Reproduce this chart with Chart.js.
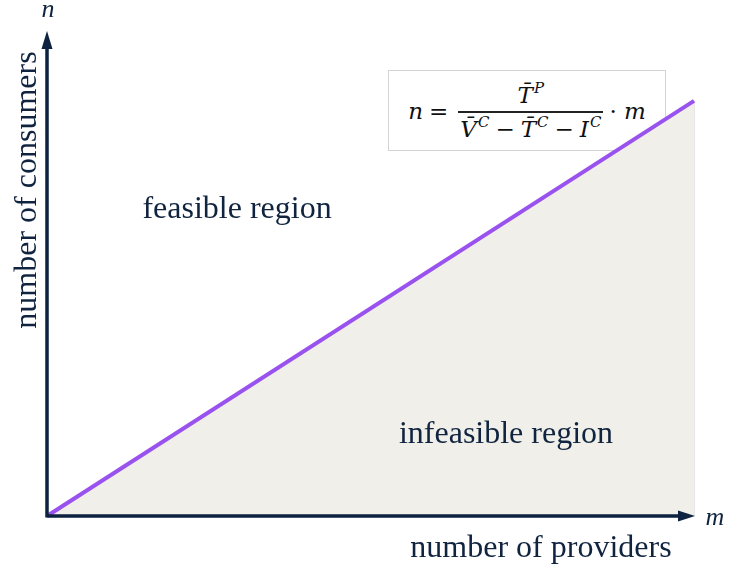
<!DOCTYPE html>
<html>
<head>
<meta charset="utf-8">
<script src="https://cdn.jsdelivr.net/npm/chart.js@4.4.1/dist/chart.umd.min.js"></script>
<style>
  html, body { margin: 0; padding: 0; background: #fff; }
  #wrap { position: relative; width: 729px; height: 568px; }
  #grafico { position: absolute; left: 0; top: 0; z-index: 1; }
  #formula {
    position: absolute; left: 388px; top: 70px; width: 276px; height: 79px; z-index: 0;
    border: 1px solid #d4d4d4; background: #fff;
    font-family: "DejaVu Serif", serif; font-size: 23px; color: #111;
    display: flex; align-items: center; justify-content: center; white-space: nowrap;
  }
  #formula i { font-style: italic; }
  #formula sup { font-size: 15px; font-style: italic; vertical-align: 10px; line-height: 0; margin-left: 1px; }
  .frac { display: inline-flex; flex-direction: column; align-items: center; margin: 0 8px 0 6px; }
  .frac .num { border-bottom: 2px solid #222; padding: 2px 2px 3px; width: 100%; text-align: center; }
  .frac .den { padding-top: 3px; }
  .op { margin: 0 6px; }
</style>
</head>
<body>
<div id="wrap">
  <div id="formula">
    <i>n</i><span class="op">=</span>
    <span class="frac">
      <span class="num"><i>T̄</i><sup>P</sup></span>
      <span class="den"><i>V̄</i><sup>C</sup><span class="op">−</span><i>T̄</i><sup>C</sup><span class="op">−</span><i>I</i><sup>C</sup></span>
    </span>
    <span>·</span>&nbsp;<i>m</i>
  </div>
  <canvas id="grafico" width="729" height="568"></canvas>
</div>
<script>
document.addEventListener('DOMContentLoaded', function() {
    // boundary line n = k * m
    const providers = [0, 10];
    const consumers = [0, 8.56];
    const axisMax = 10;

    const corTexto = '#10243f';
    const corEixo = '#0d2240';

    const textos = {
        feasible: 'feasible region',
        infeasible: 'infeasible region',
        eixoX: 'number of providers',
        eixoY: 'number of consumers'
    };

    const eixosPlugin = {
        id: 'eixos',
        afterDraw(chart) {
            const ctx = chart.ctx;
            const sx = chart.scales.x;
            const sy = chart.scales.y;
            const x0 = sx.getPixelForValue(0);
            const y0 = sy.getPixelForValue(0);
            const xTip = sx.getPixelForValue(axisMax) + 1;
            const yTip = sy.getPixelForValue(axisMax);

            ctx.save();
            ctx.strokeStyle = corEixo;
            ctx.fillStyle = corEixo;
            ctx.lineWidth = 3.5;
            ctx.beginPath();
            ctx.moveTo(x0, y0);
            ctx.lineTo(xTip - 12, y0);
            ctx.moveTo(x0, y0 + 1.5);
            ctx.lineTo(x0, yTip + 12);
            ctx.stroke();

            // arrow heads
            ctx.beginPath();
            ctx.moveTo(xTip, y0);
            ctx.lineTo(xTip - 17, y0 - 5.5);
            ctx.lineTo(xTip - 17, y0 + 5.5);
            ctx.closePath();
            ctx.fill();
            ctx.beginPath();
            ctx.moveTo(x0, yTip);
            ctx.lineTo(x0 - 5.5, yTip + 18);
            ctx.lineTo(x0 + 5.5, yTip + 18);
            ctx.closePath();
            ctx.fill();

            ctx.fillStyle = corTexto;
            ctx.textAlign = 'center';
            ctx.textBaseline = 'alphabetic';
            ctx.font = 'italic 26px "Liberation Serif"';
            ctx.fillText('n', x0 + 1, 17);
            ctx.fillText('m', 715, 525);

            ctx.font = '32px "Liberation Serif"';
            ctx.fillText(textos.feasible, 237, 218);
            ctx.fillText(textos.infeasible, 506, 443);
            ctx.fillText(textos.eixoX, 541, 557);

            ctx.translate(36, 190);
            ctx.rotate(-Math.PI / 2);
            ctx.fillText(textos.eixoY, 0, 0);
            ctx.restore();
        }
    };

    new Chart(document.getElementById('grafico').getContext('2d'), {
        type: 'scatter',
        data: {
            datasets: [
                {
                    label: 'boundary',
                    data: providers.map((m, i) => ({ x: m, y: consumers[i] })),
                    showLine: true,
                    borderColor: '#9a52ef',
                    backgroundColor: '#f0efe9',
                    borderWidth: 4,
                    pointRadius: 0,
                    fill: 'origin',
                    clip: false,
                    order: 1
                },
                {
                    label: 'edge',
                    data: [{ x: providers[1], y: 0 }, { x: providers[1], y: consumers[1] }],
                    showLine: true,
                    borderColor: '#cfcfcf',
                    borderWidth: 1,
                    pointRadius: 0,
                    clip: false,
                    order: 2
                }
            ]
        },
        options: {
            responsive: false,
            animation: false,
            layout: { padding: { left: 47, right: 35, top: 31, bottom: 52 } },
            plugins: { legend: { display: false }, tooltip: { enabled: false } },
            scales: {
                x: { type: 'linear', min: 0, max: axisMax, display: false },
                y: { type: 'linear', min: 0, max: axisMax, display: false }
            }
        },
        plugins: [eixosPlugin]
    });
});
</script>
</body>
</html>
